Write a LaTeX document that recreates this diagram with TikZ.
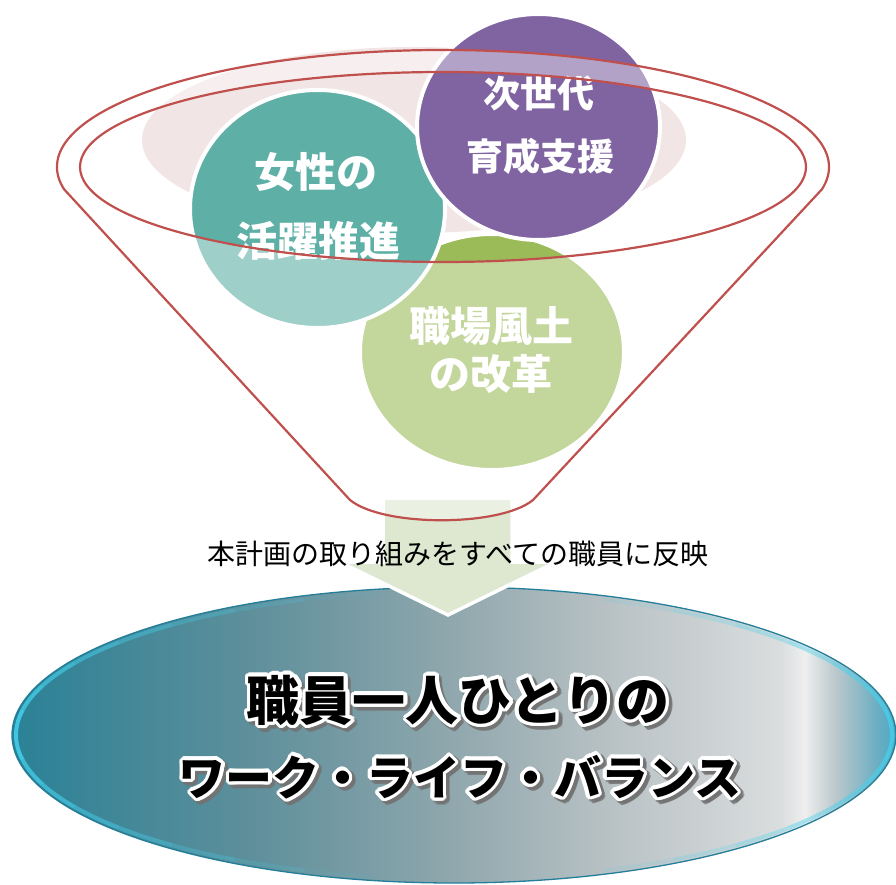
\documentclass[tikz,border=0pt]{standalone}
\usepackage{fontspec}
\newfontfamily\jp{Noto Sans CJK JP}
\usetikzlibrary{calc}
\definecolor{funnelred}{HTML}{C0504D}
\definecolor{pinkbg}{HTML}{F2E5E5}
\definecolor{bubteal}{HTML}{5EAFA6}
\definecolor{bubpurple}{HTML}{8064A2}
\definecolor{bubgreen}{HTML}{9BBB59}
\definecolor{arrowgreen}{HTML}{DEE8D0}
\definecolor{rimdark}{HTML}{237E99}
\definecolor{rimcyan}{HTML}{45D2EE}
\definecolor{sa}{HTML}{2A8196}
\definecolor{sb}{HTML}{5E8F9B}
\definecolor{sc}{HTML}{8FA7AD}
\definecolor{sd}{HTML}{B6C0C3}
\definecolor{se}{HTML}{DADDDE}
\definecolor{sf}{HTML}{EEEEEE}
\definecolor{sg}{HTML}{BCC8CC}
\definecolor{sh}{HTML}{6FAFC2}
\definecolor{si}{HTML}{4BA8C4}
\pgfdeclarehorizontalshading{blueell}{100bp}{color(0bp)=(sa); color(25bp)=(sa); color(38.46bp)=(sb); color(49.77bp)=(sc); color(58.26bp)=(sd); color(68.44bp)=(se); color(69.85bp)=(sf); color(71.55bp)=(sg); color(73.81bp)=(sh); color(75bp)=(si); color(100bp)=(si)}
\begin{document}
\begin{tikzpicture}[x=1pt,y=-1pt,
  redline/.style={draw=funnelred, line width=2.2pt},
  bubble/.style={draw=white, line width=4pt},
  bubtxt/.style={font=\jp\bfseries\fontsize{41}{41}\selectfont, text=white, inner sep=0pt},
  bubtxtp/.style={font=\jp\bfseries\fontsize{37}{37}\selectfont, text=white, inner sep=0pt},
  midtxt/.style={font=\jp\fontsize{28}{28}\selectfont, text=black, inner sep=0pt},
  bigA/.style={font=\jp\bfseries\fontsize{53}{53}\selectfont, inner sep=0pt},
  bigB/.style={font=\jp\bfseries\fontsize{47}{47}\selectfont, inner sep=0pt}]
\useasboundingbox (0,0) rectangle (896,885);
\fill[white] (0,0) rectangle (896,885);
% pale pink funnel interior
\fill[pinkbg] (414,140) ellipse [x radius=272, y radius=93];
% bubbles
\filldraw[fill=bubgreen, bubble] (492,352) ellipse [x radius=132, y radius=118];
\filldraw[fill=bubteal, bubble] (317.5,209) ellipse [x radius=127.5, y radius=119];
\filldraw[fill=bubpurple, bubble] (538.5,127) ellipse [x radius=121.5, y radius=113];
\node[bubtxt] (t1a) at (316,172) {女性の};
\node[bubtxt] (t1b) at (318,241) {活躍推進};
\node[bubtxtp] (t2a) at (539,93) {次世代};
\node[bubtxtp] (t2b) at (540,156) {育成支援};
\node[bubtxt] (t3a) at (491,326) {職場風土};
\node[bubtxt] (t3b) at (491,374) {の改革};
% big ellipse
\shade[shading=blueell] (454,735) ellipse [x radius=442, y radius=148];
\foreach \t in {100,110,...,250} {
  \pgfmathsetmacro\op{0.9*(1-abs(\t+5-180)/80)}
  \draw[rimcyan, line width=4pt, opacity=\op] (454,735) ++(\t:438 and 144) arc[start angle=\t, end angle=\t+10, x radius=438, y radius=144];
}
\foreach \t in {-70,-60,...,60} {
  \pgfmathsetmacro\op{0.8*(1-abs(\t+5)/75)}
  \draw[rimcyan, line width=4pt, opacity=\op] (454,735) ++(\t:438 and 144) arc[start angle=\t, end angle=\t+10, x radius=438, y radius=144];
}
\draw[rimdark, line width=1.3pt] (454,735) ellipse [x radius=442, y radius=148];
% arrow
\filldraw[fill=arrowgreen, draw=white, line width=3.5pt, line join=miter]
  (383,498) -- (512,498) -- (512,562) -- (556,562) -- (448,615) -- (340,562) -- (383,562) -- cycle;
% funnel translucent body
\path[fill=white, fill opacity=0.4, even odd rule]
  (64.1,189.3) arc[start angle=169, end angle=371, x radius=386, y radius=117]
  -- (533,500) .. controls (500,527) and (383,527) .. (350,500) -- cycle
  (443,167) ellipse [x radius=363, y radius=95];
\draw[redline, line join=round]
  (64.1,189.3) arc[start angle=169, end angle=371, x radius=386, y radius=117]
  -- (533,500) .. controls (500,527) and (383,527) .. (350,500) -- cycle;
\draw[redline] (443,167) ellipse [x radius=363, y radius=95];
% caption
\node[midtxt] (reflect) at (458,554) {本計画の取り組みをすべての職員に反映};
% big text with shadow and white outline
\foreach \a in {0,20,...,340} {
  \node[bigA, text=black!55, opacity=0.6, xshift={3+4*cos(\a)}, yshift={-3+4*sin(\a)}] (shA\a) at (458,700) {職員一人ひとりの};
  \node[bigB, text=black!55, opacity=0.6, xshift={3+4*cos(\a)}, yshift={-3+4*sin(\a)}] (shB\a) at (460,777) {ワーク・ライフ・バランス};
}
\foreach \a in {0,20,...,340} {
  \node[bigA, text=white, xshift={3.5*cos(\a)}, yshift={3.5*sin(\a)}] (olA\a) at (458,700) {職員一人ひとりの};
  \node[bigB, text=white, xshift={3.5*cos(\a)}, yshift={3.5*sin(\a)}] (olB\a) at (460,777) {ワーク・ライフ・バランス};
}
\node[bigA, text=black] (lineA) at (458,700) {職員一人ひとりの};
\node[bigB, text=black] (lineB) at (460,777) {ワーク・ライフ・バランス};
\end{tikzpicture}
\end{document}
